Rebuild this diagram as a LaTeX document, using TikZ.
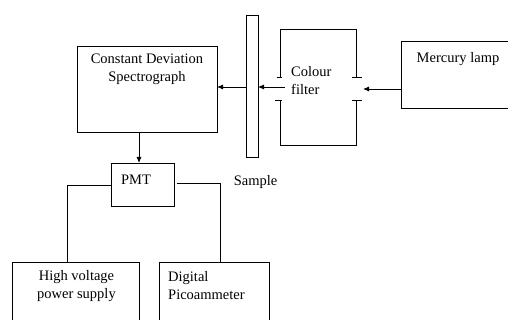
\documentclass[tikz,border=0pt]{standalone}
\usepackage{fontspec}
\setmainfont{Liberation Serif}
\usetikzlibrary{arrows.meta,calc}
\begin{document}
\begin{tikzpicture}[x=1pt,y=-1pt,
  box/.style={draw, line width=0.8pt, inner sep=0pt, outer sep=0pt},
  lbl/.style={font=\fontsize{14.5}{18}\selectfont, inner sep=0pt, align=center},
  con/.style={line width=0.8pt},
  arr/.style={line width=0.8pt, -{Latex[length=6pt,width=5pt]}}]
\useasboundingbox (0,0) rectangle (508,320);
\clip (0,0) rectangle (508,320);
% boxes
\node[box, minimum width=140pt, minimum height=86pt] (spec) at (147,89) {};
\node[box, minimum width=12pt, minimum height=142pt] (sample) at (252,86) {};
\node[box, minimum width=129pt, minimum height=67pt] (lamp) at (465.5,74.5) {};
\node[box, minimum width=63pt, minimum height=43pt] (pmt) at (142.5,184.5) {};
\node[box, minimum width=127pt, minimum height=78pt] (hv) at (75.5,301) {};
\node[box, minimum width=110pt, minimum height=78pt] (dig) at (214,301) {};
% texts
\node[lbl] (spect) at (147,69) {Constant Deviation\\Spectrograph};
\node[lbl] (lampt) at (458,59) {Mercury lamp};
\node[lbl] (pmtt) at (136,180) {PMT};
\node[lbl] (samplet) at (255.5,182) {Sample};
\node[lbl] (hvt) at (76.5,286) {High voltage\\power supply};
\node[lbl, align=left, anchor=west] (digt) at (168,286) {Digital\\Picoammeter};
\node[lbl, align=left, anchor=west] (filtt) at (291,81) {Colour\\filter};
% colour filter brackets
\draw[con] (276.5,77) -- (282,77) (280,77) -- (280,29) -- (356,29) -- (356,77) (351.5,77) -- (362,77);
\draw[con] (275,100) -- (282,100) (280,100) -- (280,145) -- (356,145) -- (356,100) (351.5,100) -- (362,100);
% connectors
\coordinate (fstart) at (285,87);
\coordinate (lend) at (363,89);
\coordinate (sdown) at (139,132);
\draw[arr] (fstart) -- (fstart -| sample.east);
\draw[arr] (lamp.west |- lend) -- (lend);
\draw[arr] (sample.west |- fstart) -- (fstart -| spec.east);
\draw[arr] (sdown) -- (sdown |- pmt.north);
\coordinate (hvtop) at (67,262);
\coordinate (digtop) at (220,262);
\draw[con] (pmt.west |- 0,185) -| (hvtop);
\draw[con] (177,183) -| (digtop);
\end{tikzpicture}
\end{document}
